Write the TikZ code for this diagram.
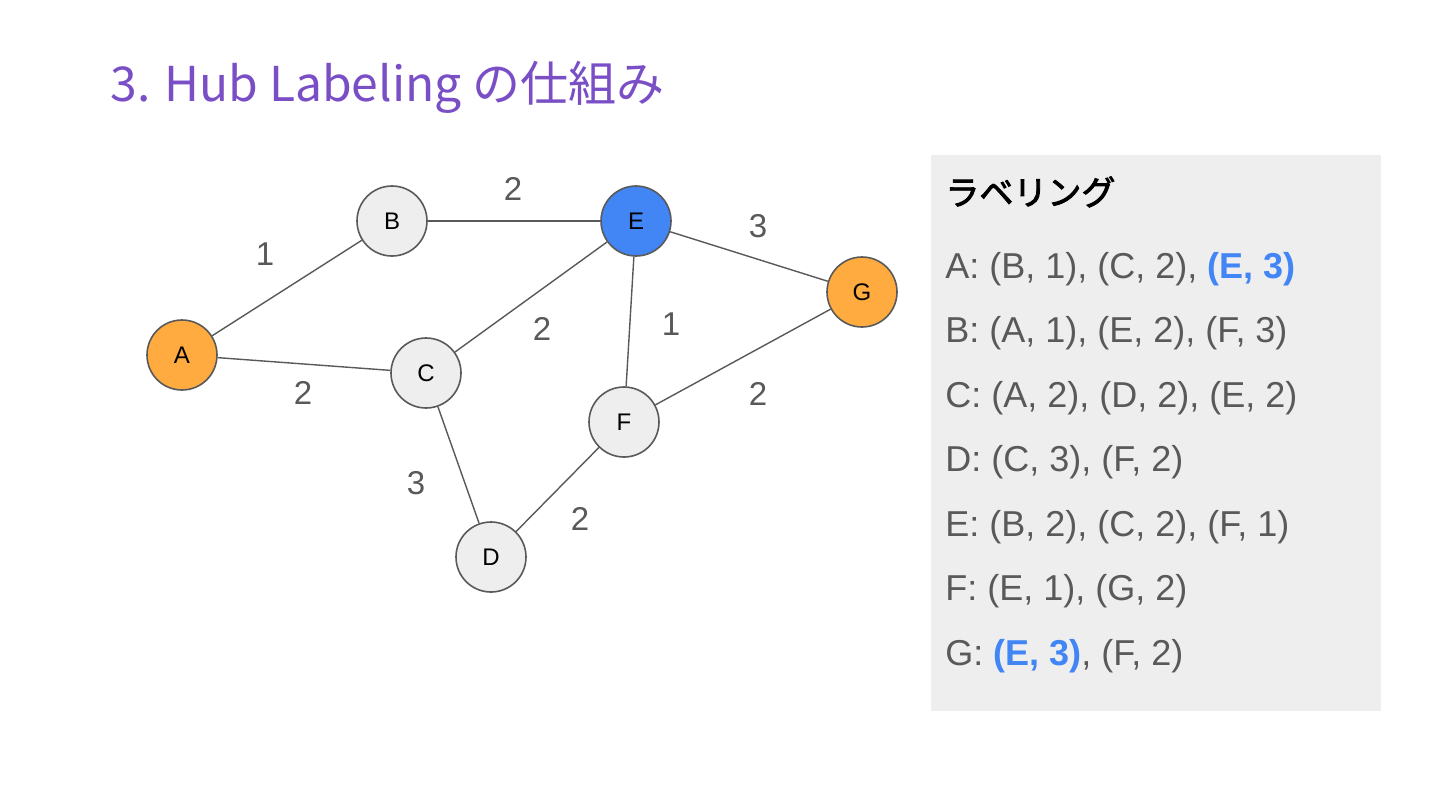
\documentclass[tikz,border=0pt]{standalone}
\usepackage{fontspec}
\setmainfont{Liberation Sans}
\newfontfamily\cjk{Noto Sans CJK JP}
\newfontfamily\cjkh[FakeBold=2.5]{Noto Sans CJK JP}
\definecolor{ttl}{HTML}{7A4FC6}
\definecolor{edgec}{HTML}{595959}
\definecolor{nfill}{HTML}{EEEEEE}
\definecolor{orng}{HTML}{FFAB40}
\definecolor{bluen}{HTML}{4285F4}
\definecolor{panel}{HTML}{EEEEEE}
\definecolor{txtc}{HTML}{595959}
\begin{document}
\begin{tikzpicture}[x=0.5pt,y=-0.5pt,
  vert/.style={circle,draw=edgec,line width=0.8pt,minimum size=35pt,inner sep=0pt,fill=nfill,font=\fontsize{12}{14}\selectfont},
  link/.style={draw=edgec,line width=0.7pt},
  wlab/.style={text=txtc,font=\fontsize{16.5}{19}\selectfont,inner sep=0pt},
  ptxt/.style={anchor=base west,text=txtc,font=\fontsize{18}{21}\selectfont,inner sep=0pt}]
\useasboundingbox (0,0) rectangle (1440,810);
\fill[white] (0,0) rectangle (1440,810);
% title
\node[anchor=base west,inner sep=0pt,text=ttl,font=\cjk\fontsize{24}{29}\selectfont] (title) at (110,101) {3. Hub Labeling の仕組み};
% vertices
\node[vert,fill=orng] (A) at (182,355) {A};
\node[vert] (B) at (392,221) {B};
\node[vert] (C) at (426,373) {C};
\node[vert] (D) at (491,557) {D};
\node[vert,fill=bluen] (E) at (636,221) {E};
\node[vert] (F) at (624,422) {F};
\node[vert,fill=orng] (G) at (862,292) {G};
% edges
\draw[link] (A) -- (B);
\draw[link] (A) -- (C);
\draw[link] (B) -- (E);
\draw[link] (C) -- (E);
\draw[link] (C) -- (D);
\draw[link] (E) -- (F);
\draw[link] (E) -- (G);
\draw[link] (F) -- (G);
\draw[link] (D) -- (F);
% weights
\node[wlab] (wAB) at (265,254) {1};
\node[wlab] (wBE) at (513,189) {2};
\node[wlab] (wEG) at (758,226) {3};
\node[wlab] (wAC) at (303,393) {2};
\node[wlab] (wCE) at (542,329) {2};
\node[wlab] (wEF) at (671,324) {1};
\node[wlab] (wFG) at (758,394) {2};
\node[wlab] (wCD) at (416,483) {3};
\node[wlab] (wDF) at (580,519) {2};
% panel
\fill[panel] (931,155) rectangle (1381,711);
\node[anchor=base west,inner sep=0pt,font=\cjkh\fontsize{17}{20}\selectfont] (head) at (945,205) {ラベリング};
\node[ptxt] (la) at (945,278) {A: (B, 1), (C, 2), \textcolor{bluen}{\bfseries (E, 3)}};
\node[ptxt] (lb) at (945,342.5) {B: (A, 1), (E, 2), (F, 3)};
\node[ptxt] (lc) at (945,407) {C: (A, 2), (D, 2), (E, 2)};
\node[ptxt] (ld) at (945,471.5) {D: (C, 3), (F, 2)};
\node[ptxt] (le) at (945,536) {E: (B, 2), (C, 2), (F, 1)};
\node[ptxt] (lf) at (945,600.5) {F: (E, 1), (G, 2)};
\node[ptxt] (lg) at (945,665) {G: \textcolor{bluen}{\bfseries (E, 3)}, (F, 2)};
\end{tikzpicture}
\end{document}
